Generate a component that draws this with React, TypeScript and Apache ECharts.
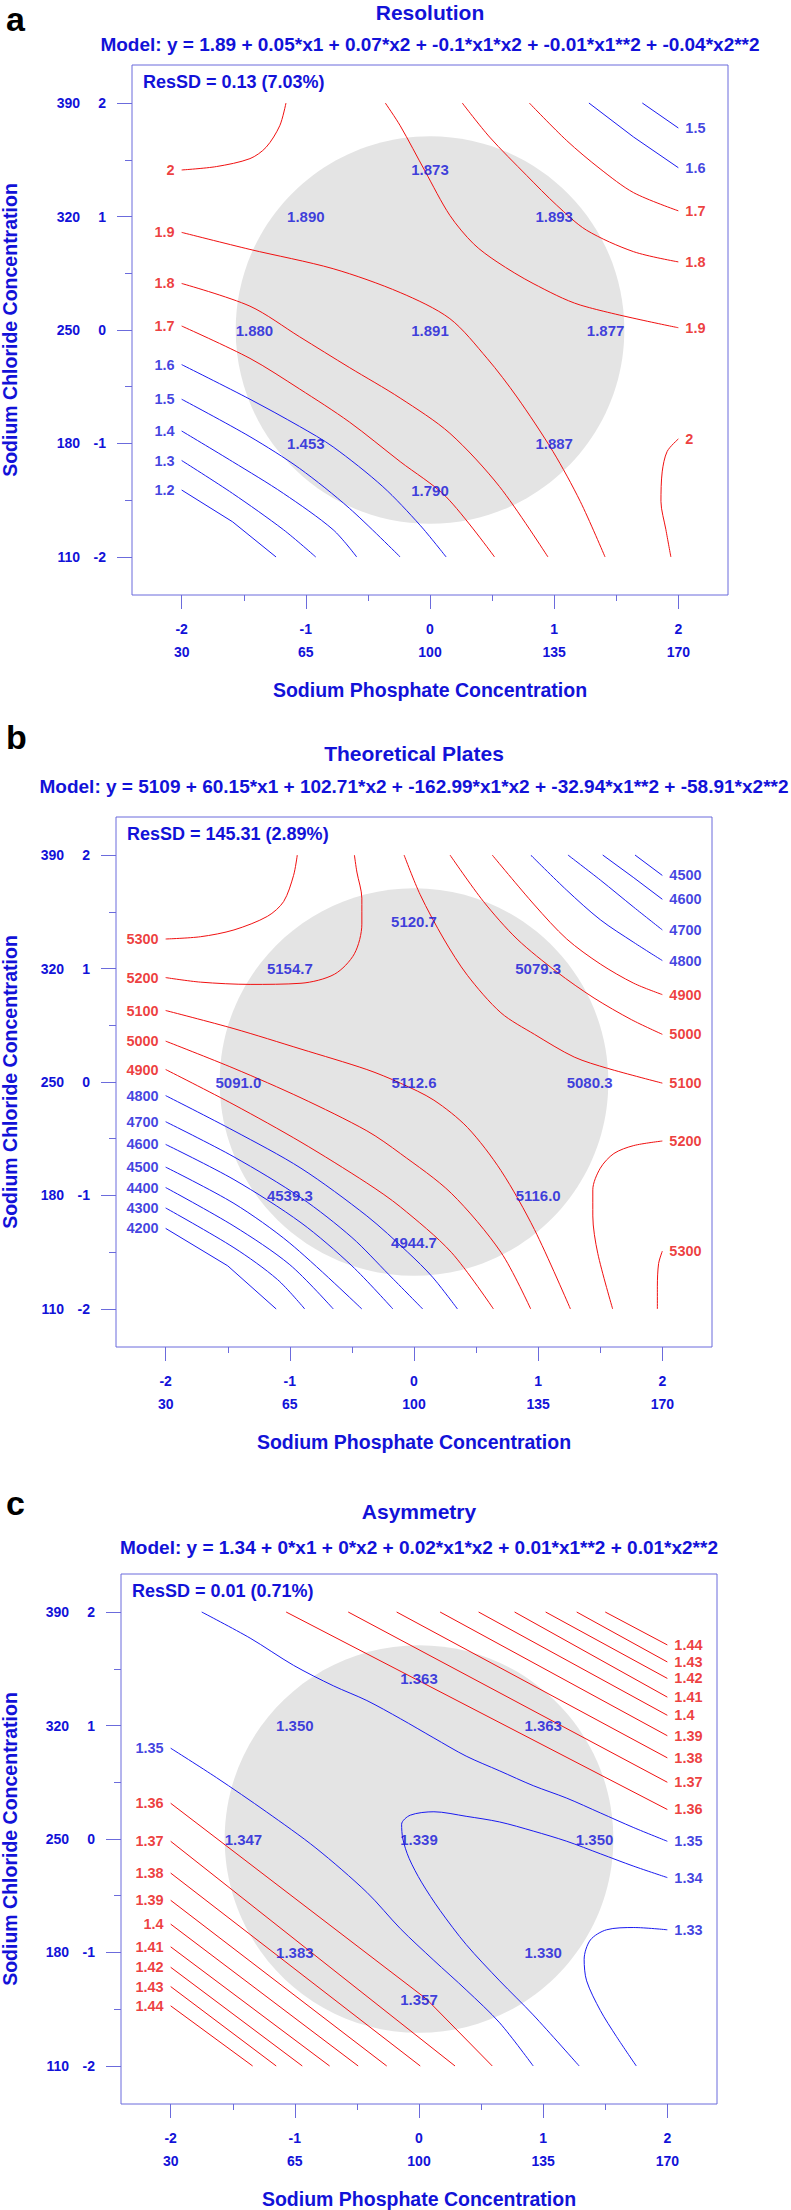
import React, { useEffect, useRef } from 'react';
import * as echarts from 'echarts';

// ---------- axis ticks / labels ----------
const xCoded = [-2, -1, 0, 1, 2];
const xReal = [30, 65, 100, 135, 170];
const yCoded = [-2, -1, 0, 1, 2];
const yReal = [110, 180, 250, 320, 390];
const xMinor = [-1.5, -0.5, 0.5, 1.5];
const yMinor = [-1.5, -0.5, 0.5, 1.5];

// ---------- panel texts ----------
const panelLetters = ['a', 'b', 'c'];
const panelTitles = ['Resolution', 'Theoretical Plates', 'Asymmetry'];
const panelModels = [
  'Model: y = 1.89 + 0.05*x1 + 0.07*x2 + -0.1*x1*x2 + -0.01*x1**2 + -0.04*x2**2',
  'Model: y = 5109 + 60.15*x1 + 102.71*x2 + -162.99*x1*x2 + -32.94*x1**2 + -58.91*x2**2',
  'Model: y = 1.34 + 0*x1 + 0*x2 + 0.02*x1*x2 + 0.01*x1**2 + 0.01*x2**2',
];
const panelResSD = ['ResSD = 0.13 (7.03%)', 'ResSD = 145.31 (2.89%)', 'ResSD = 0.01 (0.71%)'];
const xTitle = 'Sodium Phosphate Concentration';
const yTitle = 'Sodium Chloride Concentration';

// ---------- design points and predicted values ----------
const designX = [-1, 0, 1, -1.414, 0, 1.414, -1, 0, 1];
const designY = [1, 1.414, 1, 0, 0, 0, -1, -1.414, -1];
const resolutionPred = ['1.890', '1.873', '1.893', '1.880', '1.891', '1.877', '1.453', '1.790', '1.887'];
const platesPred = ['5154.7', '5120.7', '5079.3', '5091.0', '5112.6', '5080.3', '4539.3', '4944.7', '5116.0'];
const asymPred = ['1.350', '1.363', '1.363', '1.347', '1.339', '1.350', '1.383', '1.357', '1.330'];

// experimental region (grey disc): centre and radii in coded units
const regionCenter = [0, 0];
const regionRadius = [1.565, 1.708];

// ---------- contour lines: Resolution ----------
const a_2_top = [[-2.0, 1.41], [-1.72, 1.44], [-1.45, 1.51], [-1.32, 1.61], [-1.21, 1.8], [-1.16, 2.0]];
const a_19_low = [[-2.0, 0.86], [-1.45, 0.71], [-0.78, 0.54], [-0.24, 0.33], [0.16, 0.1], [0.46, -0.25], [0.7, -0.59], [0.99, -1.07], [1.21, -1.51], [1.41, -2.0]];
const a_18_low = [[-2.0, 0.41], [-1.45, 0.21], [-1.05, -0.06], [-0.65, -0.33], [-0.24, -0.6], [0.16, -0.91], [0.56, -1.38], [0.95, -2.0]];
const a_17_low = [[-2.0, 0.035], [-1.45, -0.25], [-1.05, -0.52], [-0.65, -0.81], [-0.24, -1.16], [0.13, -1.47], [0.52, -2.0]];
const a_16_low = [[-2.0, -0.305], [-1.45, -0.61], [-1.05, -0.85], [-0.78, -1.03], [-0.38, -1.38], [-0.08, -1.72], [0.13, -2.0]];
const a_15_low = [[-2.0, -0.61], [-1.45, -0.94], [-1.05, -1.22], [-0.65, -1.57], [-0.24, -2.0]];
const a_14_low = [[-2.0, -0.89], [-1.59, -1.16], [-1.18, -1.44], [-0.78, -1.76], [-0.59, -2.0]];
const a_13_low = [[-2.0, -1.15], [-1.59, -1.44], [-1.18, -1.76], [-0.92, -2.0]];
const a_12_low = [[-2.0, -1.41], [-1.59, -1.69], [-1.24, -2.0]];
const a_19_up = [[-0.36, 2.0], [-0.24, 1.8], [-0.04, 1.4], [0.16, 1.01], [0.35, 0.76], [0.54, 0.6], [0.83, 0.41], [1.21, 0.22], [2.0, 0.02]];
const a_18_up = [[0.26, 2.0], [0.48, 1.7], [0.78, 1.36], [1.02, 1.1], [1.26, 0.88], [1.64, 0.69], [2.0, 0.6]];
const a_17_up = [[0.8, 2.0], [1.1, 1.67], [1.37, 1.42], [1.64, 1.21], [2.0, 1.05]];
const a_16_up = [[1.28, 2.0], [1.64, 1.7], [2.0, 1.43]];
const a_15_up = [[1.71, 2.0], [2.0, 1.78]];
const a_2_right = [[2.0, -0.96], [1.91, -1.07], [1.87, -1.25], [1.86, -1.51], [1.9, -1.76], [1.94, -2.0]];

// ---------- contour lines: Theoretical Plates ----------
const b_5300_top = [[-2.0, 1.26], [-1.72, 1.28], [-1.45, 1.34], [-1.18, 1.46], [-1.05, 1.59], [-0.97, 1.82], [-0.94, 2.0]];
const b_5200_top = [[-2.0, 0.92], [-1.72, 0.88], [-1.32, 0.86], [-0.91, 0.87], [-0.64, 0.95], [-0.48, 1.13], [-0.42, 1.39], [-0.42, 1.62], [-0.46, 1.85], [-0.48, 2.0]];
const b_5100_low = [[-2.0, 0.63], [-1.45, 0.47], [-0.91, 0.29], [-0.38, 0.11], [-0.11, -0.01], [0.16, -0.16], [0.43, -0.4], [0.7, -0.78], [0.97, -1.3], [1.26, -2.0]];
const b_5000_low = [[-2.0, 0.36], [-1.45, 0.12], [-0.91, -0.14], [-0.38, -0.43], [-0.11, -0.63], [0.3, -0.98], [0.7, -1.5], [0.94, -2.0]];
const b_4900_low = [[-2.0, 0.11], [-1.45, -0.2], [-0.91, -0.53], [-0.38, -0.89], [-0.11, -1.1], [0.3, -1.5], [0.64, -2.0]];
const b_4800_low = [[-2.0, -0.12], [-1.45, -0.43], [-0.91, -0.76], [-0.38, -1.18], [-0.05, -1.5], [0.15, -1.72], [0.35, -2.0]];
const b_4700_low = [[-2.0, -0.35], [-1.45, -0.66], [-0.91, -1.02], [-0.5, -1.37], [-0.2, -1.7], [0.07, -2.0]];
const b_4600_low = [[-2.0, -0.55], [-1.45, -0.86], [-0.91, -1.24], [-0.5, -1.62], [-0.17, -2.0]];
const b_4500_low = [[-2.0, -0.75], [-1.45, -1.07], [-1.0, -1.42], [-0.42, -2.0]];
const b_4400_low = [[-2.0, -0.93], [-1.45, -1.27], [-1.0, -1.61], [-0.65, -2.0]];
const b_4300_low = [[-2.0, -1.11], [-1.45, -1.46], [-1.1, -1.74], [-0.88, -2.0]];
const b_4200_low = [[-2.0, -1.29], [-1.5, -1.62], [-1.11, -2.0]];
const b_5100_up = [[-0.08, 2.0], [0.05, 1.65], [0.24, 1.26], [0.43, 0.94], [0.7, 0.61], [0.97, 0.42], [1.29, 0.22], [1.56, 0.12], [2.0, -0.01]];
const b_5000_up = [[0.29, 2.0], [0.56, 1.59], [0.83, 1.26], [1.15, 0.97], [1.45, 0.74], [1.75, 0.55], [2.0, 0.42]];
const b_4900_up = [[0.63, 2.0], [0.97, 1.56], [1.23, 1.26], [1.5, 1.04], [1.77, 0.87], [2.0, 0.77]];
const b_4800_up = [[0.94, 2.0], [1.23, 1.69], [1.5, 1.43], [1.77, 1.23], [2.0, 1.07]];
const b_4700_up = [[1.24, 2.0], [1.5, 1.78], [1.77, 1.54], [2.0, 1.34]];
const b_4600_up = [[1.52, 2.0], [1.77, 1.8], [2.0, 1.61]];
const b_4500_up = [[1.78, 2.0], [2.0, 1.82]];
const b_5200_right = [[2.0, -0.52], [1.77, -0.56], [1.61, -0.63], [1.5, -0.76], [1.44, -0.95], [1.44, -1.18], [1.48, -1.51], [1.6, -2.0]];
const b_5300_right = [[2.0, -1.49], [1.97, -1.6], [1.96, -1.8], [1.96, -2.0]];

// ---------- contour lines: Asymmetry ----------
const c_135_up = [[-1.75, 2.0], [-1.36, 1.77], [-1.01, 1.53], [-0.69, 1.35], [-0.42, 1.22], [-0.15, 1.06], [0.12, 0.89], [0.38, 0.73], [0.65, 0.6], [0.92, 0.47], [1.19, 0.36], [1.46, 0.23], [1.73, 0.1], [2.0, -0.02]];
const c_135_low = [[-2.0, 0.8], [-1.63, 0.54], [-1.23, 0.24], [-0.83, -0.08], [-0.42, -0.47], [-0.15, -0.79], [0.12, -1.07], [0.38, -1.33], [0.65, -1.62], [0.92, -2.0]];
const c_134 = [[2.0, -0.34], [1.73, -0.24], [1.46, -0.13], [1.19, -0.02], [0.92, 0.07], [0.65, 0.15], [0.38, 0.2], [0.12, 0.24], [-0.07, 0.21], [-0.14, 0.13], [-0.13, 0.0], [-0.08, -0.17], [0.02, -0.38], [0.17, -0.63], [0.38, -0.93], [0.65, -1.25], [0.92, -1.55], [1.29, -2.0]];
const c_133 = [[2.0, -0.8], [1.73, -0.78], [1.51, -0.8], [1.38, -0.89], [1.33, -1.06], [1.35, -1.25], [1.46, -1.51], [1.59, -1.74], [1.75, -2.0]];
const c_136_up = [[-1.07, 2.0], [2.0, 0.26]];
const c_137_up = [[-0.57, 2.0], [2.0, 0.5]];
const c_138_up = [[-0.18, 2.0], [2.0, 0.715]];
const c_139_up = [[0.17, 2.0], [2.0, 0.91]];
const c_140_up = [[0.48, 2.0], [2.0, 1.09]];
const c_141_up = [[0.77, 2.0], [2.0, 1.25]];
const c_142_up = [[1.02, 2.0], [2.0, 1.415]];
const c_143_up = [[1.27, 2.0], [2.0, 1.56]];
const c_144_up = [[1.5, 2.0], [2.0, 1.71]];
const c_136_low = [[-2.0, 0.315], [0.06, -1.41], [0.59, -2.0]];
const c_137_low = [[-2.0, -0.02], [0.29, -2.0]];
const c_138_low = [[-2.0, -0.3], [0.01, -2.0]];
const c_139_low = [[-2.0, -0.54], [-0.26, -2.0]];
const c_140_low = [[-2.0, -0.75], [-0.49, -2.0]];
const c_141_low = [[-2.0, -0.95], [-0.72, -2.0]];
const c_142_low = [[-2.0, -1.13], [-0.94, -2.0]];
const c_143_low = [[-2.0, -1.3], [-1.15, -2.0]];
const c_144_low = [[-2.0, -1.47], [-1.34, -2.0]];

// ---------- styling / layout ----------
const FONT = "'Liberation Sans', Arial, Helvetica, sans-serif";
const TEXT = '#1212D8';
const FRAME = '#6B6BDC';
const LINE_BLUE = '#1A1AF0';
const LINE_RED = '#F01010';
const LABEL_RED = '#E80C0C';
const DISC = '#E4E4E4';
const W = 791;
const H = 2210;
const BOX_W = 596;
const BOX_H = 530;
const boxes = [
  { left: 132, top: 65, letterY: 19, titleY: 12, modelY: 44 },
  { left: 116, top: 817, letterY: 737, titleY: 753, modelY: 786 },
  { left: 121, top: 1574, letterY: 1503, titleY: 1511, modelY: 1547 },
];
const X_MIN = -2.4, X_MAX = 2.4, Y_MIN = -2.335, Y_MAX = 2.335;

type C = { p: number; pts: number[][]; lv: string; col: 'r' | 'b'; at: 'start' | 'end'; side: 'left' | 'right' };
const L = (p: number, pts: number[][], lv: string, col: 'r' | 'b', at: 'start' | 'end', side: 'left' | 'right'): C => ({ p, pts, lv, col, at, side });

const contours: C[] = [
  L(0, a_2_top, '2', 'r', 'start', 'left'),
  L(0, a_19_low, '1.9', 'r', 'start', 'left'),
  L(0, a_18_low, '1.8', 'r', 'start', 'left'),
  L(0, a_17_low, '1.7', 'r', 'start', 'left'),
  L(0, a_16_low, '1.6', 'b', 'start', 'left'),
  L(0, a_15_low, '1.5', 'b', 'start', 'left'),
  L(0, a_14_low, '1.4', 'b', 'start', 'left'),
  L(0, a_13_low, '1.3', 'b', 'start', 'left'),
  L(0, a_12_low, '1.2', 'b', 'start', 'left'),
  L(0, a_19_up, '1.9', 'r', 'end', 'right'),
  L(0, a_18_up, '1.8', 'r', 'end', 'right'),
  L(0, a_17_up, '1.7', 'r', 'end', 'right'),
  L(0, a_16_up, '1.6', 'b', 'end', 'right'),
  L(0, a_15_up, '1.5', 'b', 'end', 'right'),
  L(0, a_2_right, '2', 'r', 'start', 'right'),

  L(1, b_5300_top, '5300', 'r', 'start', 'left'),
  L(1, b_5200_top, '5200', 'r', 'start', 'left'),
  L(1, b_5100_low, '5100', 'r', 'start', 'left'),
  L(1, b_5000_low, '5000', 'r', 'start', 'left'),
  L(1, b_4900_low, '4900', 'r', 'start', 'left'),
  L(1, b_4800_low, '4800', 'b', 'start', 'left'),
  L(1, b_4700_low, '4700', 'b', 'start', 'left'),
  L(1, b_4600_low, '4600', 'b', 'start', 'left'),
  L(1, b_4500_low, '4500', 'b', 'start', 'left'),
  L(1, b_4400_low, '4400', 'b', 'start', 'left'),
  L(1, b_4300_low, '4300', 'b', 'start', 'left'),
  L(1, b_4200_low, '4200', 'b', 'start', 'left'),
  L(1, b_5100_up, '5100', 'r', 'end', 'right'),
  L(1, b_5000_up, '5000', 'r', 'end', 'right'),
  L(1, b_4900_up, '4900', 'r', 'end', 'right'),
  L(1, b_4800_up, '4800', 'b', 'end', 'right'),
  L(1, b_4700_up, '4700', 'b', 'end', 'right'),
  L(1, b_4600_up, '4600', 'b', 'end', 'right'),
  L(1, b_4500_up, '4500', 'b', 'end', 'right'),
  L(1, b_5200_right, '5200', 'r', 'start', 'right'),
  L(1, b_5300_right, '5300', 'r', 'start', 'right'),

  L(2, c_135_up, '1.35', 'b', 'end', 'right'),
  L(2, c_135_low, '1.35', 'b', 'start', 'left'),
  L(2, c_134, '1.34', 'b', 'start', 'right'),
  L(2, c_133, '1.33', 'b', 'start', 'right'),
  L(2, c_136_up, '1.36', 'r', 'end', 'right'),
  L(2, c_137_up, '1.37', 'r', 'end', 'right'),
  L(2, c_138_up, '1.38', 'r', 'end', 'right'),
  L(2, c_139_up, '1.39', 'r', 'end', 'right'),
  L(2, c_140_up, '1.4', 'r', 'end', 'right'),
  L(2, c_141_up, '1.41', 'r', 'end', 'right'),
  L(2, c_142_up, '1.42', 'r', 'end', 'right'),
  L(2, c_143_up, '1.43', 'r', 'end', 'right'),
  L(2, c_144_up, '1.44', 'r', 'end', 'right'),
  L(2, c_136_low, '1.36', 'r', 'start', 'left'),
  L(2, c_137_low, '1.37', 'r', 'start', 'left'),
  L(2, c_138_low, '1.38', 'r', 'start', 'left'),
  L(2, c_139_low, '1.39', 'r', 'start', 'left'),
  L(2, c_140_low, '1.4', 'r', 'start', 'left'),
  L(2, c_141_low, '1.41', 'r', 'start', 'left'),
  L(2, c_142_low, '1.42', 'r', 'start', 'left'),
  L(2, c_143_low, '1.43', 'r', 'start', 'left'),
  L(2, c_144_low, '1.44', 'r', 'start', 'left'),
];

const predictions = [resolutionPred, platesPred, asymPred];

function buildOption(): any {
  const grid: any[] = [];
  const xAxis: any[] = [];
  const yAxis: any[] = [];
  const series: any[] = [];
  const graphic: any[] = [];
  const labelFont = { fontSize: 14, fontWeight: 'bold', fontFamily: FONT, color: TEXT };
  const noLine = { show: false, onZero: false };

  boxes.forEach((b, i) => {
    grid.push({
      left: b.left, top: b.top, width: BOX_W, height: BOX_H,
      show: true, borderColor: FRAME, borderWidth: 1, backgroundColor: 'rgba(0,0,0,0)',
      containLabel: false, outerBoundsMode: 'none',
    });
    const common = { gridIndex: i, type: 'value', min: X_MIN, max: X_MAX, axisLine: noLine, splitLine: { show: false } };
    xAxis.push({
      ...common, position: 'bottom',
      axisTick: { show: true, customValues: xCoded, length: 14, lineStyle: { color: FRAME, width: 1 } },
      axisLabel: {
        show: true, customValues: xCoded, margin: 22, lineHeight: 23, ...labelFont,
        formatter: (v: number) => `${v}\n${xReal[xCoded.indexOf(v)]}`,
      },
    });
    xAxis.push({
      ...common, position: 'bottom',
      axisTick: { show: true, customValues: xMinor, length: 6, lineStyle: { color: FRAME, width: 1 } },
      axisLabel: { show: false },
    });
    const yc = { gridIndex: i, type: 'value', min: Y_MIN, max: Y_MAX, position: 'left', axisLine: noLine, splitLine: { show: false } };
    yAxis.push({
      ...yc,
      axisTick: { show: true, customValues: yCoded, length: 15, lineStyle: { color: FRAME, width: 1 } },
      axisLabel: { show: true, customValues: yCoded, margin: 26, ...labelFont, formatter: (v: number) => `${v}` },
    });
    yAxis.push({
      ...yc,
      axisTick: { show: false },
      axisLabel: { show: true, customValues: yCoded, margin: 52, ...labelFont, formatter: (v: number) => `${yReal[yCoded.indexOf(v)]}` },
    });
    yAxis.push({
      ...yc,
      axisTick: { show: true, customValues: yMinor, length: 7, lineStyle: { color: FRAME, width: 1 } },
      axisLabel: { show: false },
    });

    const xi = 2 * i, yi = 3 * i;
    series.push({
      type: 'custom', xAxisIndex: xi, yAxisIndex: yi, silent: true, z: 1, clip: false,
      data: [[regionCenter[0], regionCenter[1], regionRadius[0], regionRadius[1]]],
      renderItem: (params: any, api: any) => {
        const c = api.coord([api.value(0), api.value(1)]);
        const s = api.size([api.value(2), api.value(3)]);
        return { type: 'ellipse', shape: { cx: c[0], cy: c[1], rx: s[0], ry: s[1] }, style: { fill: DISC, stroke: null } };
      },
    });

    const mine = contours.filter((c) => c.p === i);
    mine.forEach((c) => {
      series.push({
        type: 'line', xAxisIndex: xi, yAxisIndex: yi, data: c.pts, showSymbol: false, symbol: 'none',
        smooth: c.pts.length > 3 ? 0.3 : false, silent: true, z: 3,
        lineStyle: { color: c.col === 'r' ? LINE_RED : LINE_BLUE, width: 1 },
      });
    });
    series.push({
      type: 'scatter', xAxisIndex: xi, yAxisIndex: yi, symbolSize: 0, silent: true, z: 5,
      label: { show: true, formatter: '{b}', fontSize: 14.5, fontWeight: 'bold', fontFamily: FONT, distance: 7 },
      data: mine.map((c) => ({
        name: c.lv,
        value: c.at === 'start' ? c.pts[0] : c.pts[c.pts.length - 1],
        label: { position: c.side, color: c.col === 'r' ? LABEL_RED : TEXT },
      })),
    });
    series.push({
      type: 'scatter', xAxisIndex: xi, yAxisIndex: yi, symbolSize: 0, silent: true, z: 6,
      label: { show: true, position: 'inside', formatter: '{b}', fontSize: 15, fontWeight: 'bold', fontFamily: FONT, color: TEXT },
      data: designX.map((x, k) => ({ name: predictions[i][k], value: [x, designY[k]] })),
    });

    const cx = b.left + BOX_W / 2;
    const t = (text: string, x: number, y: number, size: number, align: string, fill = TEXT, rotation = 0) => ({
      type: 'text', x, y, rotation, silent: true, z: 10,
      style: { text, fill, fontSize: size, fontWeight: 'bold', fontFamily: FONT, align, verticalAlign: 'middle', textAlign: align, textVerticalAlign: 'middle' },
    });
    graphic.push(t(panelLetters[i], 6, b.letterY, 34, 'left', '#000000'));
    graphic.push(t(panelTitles[i], cx, b.titleY, 21, 'center'));
    graphic.push(t(panelModels[i], cx, b.modelY, 19, 'center'));
    graphic.push(t(panelResSD[i], b.left + 11, b.top + 17, 18, 'left'));
    graphic.push(t(xTitle, cx, b.top + BOX_H + 95, 19.5, 'center'));
    graphic.push(t(yTitle, 10, b.top + BOX_H / 2, 19.5, 'center', TEXT, Math.PI / 2));
  });

  return { animation: false, backgroundColor: '#ffffff', grid, xAxis, yAxis, series, graphic };
}

export default function App() {
  const ref = useRef<HTMLDivElement>(null);
  useEffect(() => {
    document.body.style.margin = '0';
    if (!ref.current) return;
    const chart = echarts.init(ref.current, undefined, { renderer: 'svg' });
    chart.setOption(buildOption());
    return () => chart.dispose();
  }, []);
  return <div ref={ref} style={{ width: W, height: H, position: 'absolute', left: 0, top: 0 }} />;
}
